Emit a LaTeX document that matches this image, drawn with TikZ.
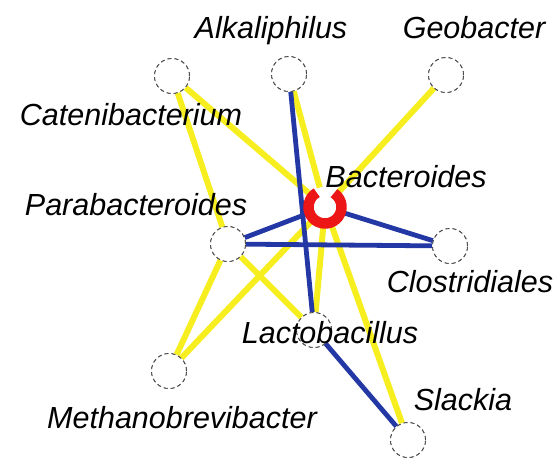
\documentclass[tikz,border=0pt]{standalone}
\usepackage{fontspec}
\setmainfont{Liberation Sans}
\definecolor{edgeyellow}{RGB}{246,238,30}
\definecolor{edgeblue}{RGB}{35,55,165}
\definecolor{ringred}{RGB}{236,22,22}
\definecolor{circgray}{RGB}{70,70,70}
\begin{document}
\begin{tikzpicture}[x=1pt,y=-1pt,
  taxon/.style={circle,draw=circgray,line width=0.9pt,dash pattern=on 4pt off 3pt,fill=white,minimum size=35pt,inner sep=0pt},
  hub/.style={circle,minimum size=40pt,inner sep=0pt},
  lbl/.style={anchor=base,inner sep=0pt,font=\fontsize{30.5}{36}\selectfont\itshape},
  yel/.style={draw=edgeyellow,line width=6pt},
  blu/.style={draw=edgeblue,line width=4.8pt}]
\useasboundingbox (0,0) rectangle (559,459);
% nodes
\node[taxon] (cat) at (172,76) {};
\node[taxon] (alk) at (289,74) {};
\node[taxon] (geo) at (446,75) {};
\node[hub] (bac) at (325,207) {};
\node[taxon] (para) at (228,244) {};
\node[taxon] (clos) at (450,246) {};
\node[taxon] (lac) at (314,330) {};
\node[taxon] (meth) at (169,371) {};
\node[taxon] (slack) at (408,440) {};
% yellow edges
\draw[yel] (cat) -- (para);
\draw[yel] (cat) -- (bac);
\draw[yel] (alk) -- (bac);
\draw[yel] (geo) -- (bac);
\draw[yel] (para) -- (meth);
\draw[yel] (para) -- (lac);
\draw[yel] (bac) -- (meth);
\draw[yel] (bac) -- (lac);
\draw[yel] (bac) -- (slack);
% blue edges
\draw[blu] (alk) -- (lac);
\draw[blu] (para) -- (bac);
\draw[blu] (para) -- (clos);
\draw[blu] (bac) -- (clos);
\draw[blu] (lac) -- (slack);
% redraw circles on top
\foreach \n in {cat,alk,geo,para,clos,lac,meth,slack}
  \draw[circgray,line width=0.9pt,dash pattern=on 4pt off 3pt,fill=white] (\n.center) circle (17.5pt);
% red ring
\draw[ringred,line width=10.5pt] (bac.center) ++(120:16.5pt) arc[start angle=120,end angle=417,radius=16.5pt];
% labels
\node[lbl] (lalk) at (271,38) {Alkaliphilus};
\node[lbl] (lgeo) at (474,38) {Geobacter};
\node[lbl] (lcat) at (131,125) {Catenibacterium};
\node[lbl] (lbac) at (406,187) {Bacteroides};
\node[lbl] (lpara) at (136,215) {Parabacteroides};
\node[lbl] (lclos) at (470,292) {Clostridiales};
\node[lbl] (llac) at (330,343) {Lactobacillus};
\node[lbl] (lslack) at (463,410) {Slackia};
\node[lbl] (lmeth) at (182,428) {Methanobrevibacter};
\end{tikzpicture}
\end{document}
